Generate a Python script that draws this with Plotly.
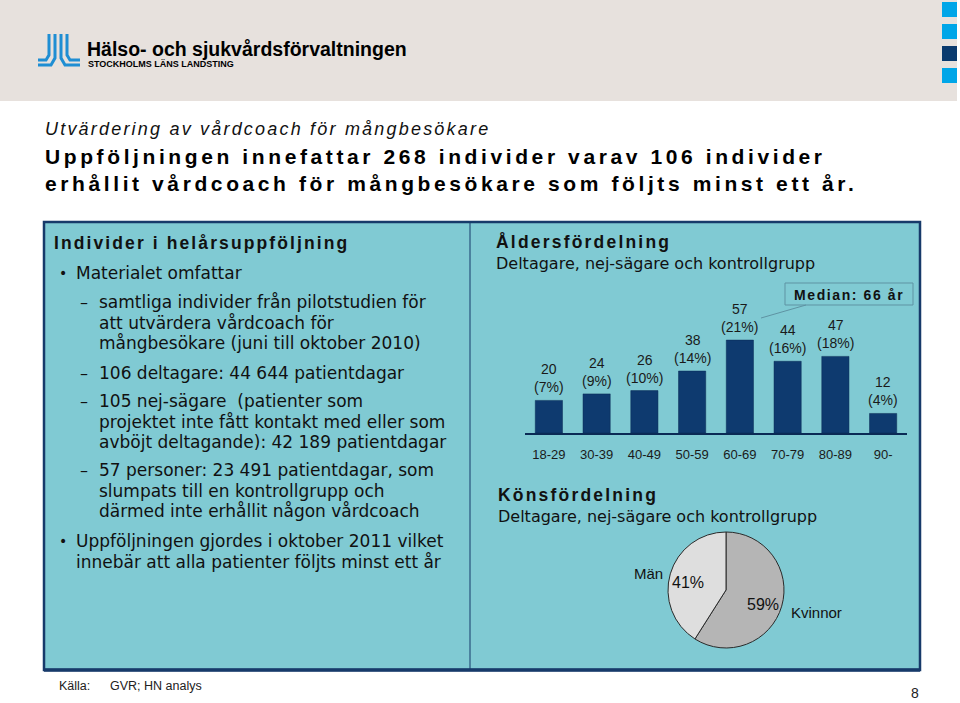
import plotly.graph_objects as go

W, H = 960, 703

# ---------------- data ----------------
age_groups = ["18-29", "30-39", "40-49", "50-59", "60-69", "70-79", "80-89", "90-"]
age_counts = [20, 24, 26, 38, 57, 44, 47, 12]
age_pct = [7, 9, 10, 14, 21, 16, 18, 4]

sex_labels = ["Kvinnor", "Män"]
sex_pct = [59, 41]

median_text = "Median: 66 år"

title_italic = "Utvärdering av vårdcoach för mångbesökare"
title_lines = ["Uppföljningen innefattar 268 individer varav 106 individer",
               "erhållit vårdcoach för mångbesökare som följts minst ett år."]

left_heading = "Individer i helårsuppföljning"
left_items = [
    ("bullet", ["Materialet omfattar"]),
    ("dash", ["samtliga individer från pilotstudien för", "att utvärdera vårdcoach för",
              "mångbesökare (juni till oktober 2010)"]),
    ("dash", ["106 deltagare: 44 644 patientdagar"]),
    ("dash", ["105 nej-sägare  (patienter som", "projektet inte fått kontakt med eller som",
              "avböjt deltagande): 42 189 patientdagar"]),
    ("dash", ["57 personer: 23 491 patientdagar, som", "slumpats till en kontrollgrupp och",
              "därmed inte erhållit någon vårdcoach"]),
    ("bullet", ["Uppföljningen gjordes i oktober 2011 vilket",
                "innebär att alla patienter följts minst ett år"]),
]
item_y = [273, 302, 373, 401, 470, 541]
line_gap = 20.7

age_heading = "Åldersfördelning"
sex_heading = "Könsfördelning"
sub_heading = "Deltagare, nej-sägare och kontrollgrupp"

source_label = "Källa:"
source_text = "GVR; HN analys"
page_no = "8"

# ---------------- helpers ----------------
def X(p):
    return p / W

def Y(p):
    return 1 - p / H

NAVY = "#0E3A6F"
PANEL = "#80CAD3"
SANS = "Liberation Sans, Arial, sans-serif"
VERD = "DejaVu Sans, Verdana, sans-serif"

annotations = []
shapes = []

def text(x, y, s, size, family=SANS, color="#111111", xanchor="left", spacing=None, bold=False, italic=False):
    if bold:
        s = "<b>" + s + "</b>"
    if italic:
        s = "<i>" + s + "</i>"
    if spacing:
        s = '<span style="letter-spacing:%spx">' % spacing + s + "</span>"
    annotations.append(dict(x=X(x), y=Y(y), xref="paper", yref="paper", text=s, showarrow=False,
                            xanchor=xanchor, yanchor="middle",
                            font=dict(size=size, family=family, color=color)))

def rect(x0, y0, x1, y1, fill=None, line=None, lw=0, layer="below"):
    shapes.append(dict(type="rect", xref="paper", yref="paper", x0=X(x0), x1=X(x1), y0=Y(y0), y1=Y(y1),
                       fillcolor=fill or "rgba(0,0,0,0)",
                       line=dict(color=line or "rgba(0,0,0,0)", width=lw), layer=layer))

def seg(x0, y0, x1, y1, color, lw, layer="below"):
    shapes.append(dict(type="line", xref="paper", yref="paper", x0=X(x0), x1=X(x1), y0=Y(y0), y1=Y(y1),
                       line=dict(color=color, width=lw), layer=layer))

def path(pts, color, lw):
    d = "M " + " L ".join("%f,%f" % (X(a), Y(b)) for a, b in pts)
    shapes.append(dict(type="path", xref="paper", yref="paper", path=d,
                       line=dict(color=color, width=lw), layer="above"))

# ---------------- header ----------------
rect(0, 0, 957, 101, fill="#E7E1DD")
for y0 in [2, 24, 46, 68]:
    rect(942, y0, 957, y0 + 15, fill="#0A3A6E" if y0 == 46 else "#00A6E8")

# logo symbol (stylised)
LB = "#1F8ED3"
path([(49, 34), (49, 55), (46, 60), (38, 60)], LB, 3)
path([(55, 34), (55, 58), (51, 65), (38, 65)], LB, 3)
path([(61, 34), (61, 58), (65, 65), (80, 65)], LB, 3)
path([(67, 34), (67, 55), (70, 60), (80, 60)], LB, 3)
text(85, 49, "Hälso- och sjukvårdsförvaltningen", 19.5, color="#000000", bold=True)
text(86, 64, "STOCKHOLMS LÄNS LANDSTING", 9, color="#000000", bold=True)

# ---------------- titles ----------------
text(43, 129, title_italic, 18, color="#111111", italic=True, spacing=2.2)
text(43, 156, title_lines[0], 21, color="#000000", bold=True, spacing=3.6)
text(43, 183, title_lines[1], 21, color="#000000", bold=True, spacing=3.6)

# ---------------- panel ----------------
rect(44, 222, 920, 670, fill=PANEL, line="#173A6A", lw=2.5)
seg(44, 670, 920, 670, "#173A6A", 3.5)
seg(470, 222, 470, 670, "#173A6A", 1)

text(52, 243, left_heading, 17.5, color="#111111", bold=True, spacing=2.1)
for (kind, lines), y0 in zip(left_items, item_y):
    if kind == "bullet":
        text(57, y0, "•", 14, family=VERD)
        tx = 74
    else:
        text(78, y0, "–", 16, family=VERD)
        tx = 97
    for i, ln in enumerate(lines):
        text(tx, y0 + i * line_gap, ln, 17, family=VERD)

text(494, 242, age_heading, 17.5, color="#111111", bold=True, spacing=2.2)
text(494, 263, sub_heading, 16, family=VERD)
text(496, 495, sex_heading, 17.5, color="#111111", bold=True, spacing=2.2)
text(496, 516, sub_heading, 16, family=VERD)

# median callout
rect(785, 283, 913, 305, line="#5E93A3", lw=1, layer="above")
text(849, 295, median_text, 14, color="#111111", bold=True, spacing=1.6, xanchor="center")
seg(806, 305, 761, 318, "#5E93A3", 1, layer="above")

# ---------------- bar chart ----------------
x_dom = [X(525), X(907)]
base_px, ymax = 433, 80
unit = 1.63
y_dom = [Y(base_px), Y(base_px - ymax * unit)]

fig = go.Figure()
fig.add_trace(go.Bar(x=age_groups, y=age_counts, marker=dict(color=NAVY, line=dict(color="#0A2A55", width=0.5)),
                     hoverinfo="x+y", showlegend=False))
for g, c, p in zip(age_groups, age_counts, age_pct):
    annotations.append(dict(x=g, y=c, xref="x", yref="y", text="%d<br>(%d%%)" % (c, p), showarrow=False,
                            yanchor="bottom", yshift=3, font=dict(size=14, family=SANS, color="#1a1a1a")))

# ---------------- pie ----------------
fig.add_trace(go.Pie(labels=sex_labels, values=sex_pct, sort=False, direction="clockwise", rotation=0,
                     marker=dict(colors=["#B5B5B5", "#DEDEDE"], line=dict(color="#2a2a2a", width=1)),
                     textinfo="none", hoverinfo="label+percent", showlegend=False,
                     domain=dict(x=[X(668), X(784)], y=[Y(648), Y(532)])))
text(763, 604, "%d%%" % sex_pct[0], 16, xanchor="center")
text(816, 612, sex_labels[0], 15, xanchor="center")
text(688, 582, "%d%%" % sex_pct[1], 16, xanchor="center")
text(648, 573, sex_labels[1], 15, xanchor="center")

# ---------------- footer ----------------
text(57, 686, source_label, 12.5, family="Liberation Sans Narrow, Liberation Sans", color="#222222")
text(108, 686, source_text, 12.5, family="Liberation Sans Narrow, Liberation Sans", color="#222222")
text(915, 693, page_no, 14, color="#222222", xanchor="center")

fig.update_layout(
    width=W, height=H, margin=dict(l=0, r=0, t=0, b=0),
    paper_bgcolor="white", plot_bgcolor="rgba(0,0,0,0)",
    bargap=0.43,
    xaxis=dict(domain=x_dom, showline=True, linecolor="#0A2A55", linewidth=1.5, ticks="outside",
               ticklen=9, tickcolor="rgba(0,0,0,0)", tickfont=dict(size=13, family=SANS, color="#1a1a1a"),
               fixedrange=True, range=[-0.5, 7.5]),
    yaxis=dict(domain=y_dom, range=[0, ymax], visible=False, fixedrange=True),
    shapes=shapes, annotations=annotations,
)
fig.write_html("out.html", config={"displayModeBar": False},
               post_script="document.body.style.margin='0';document.body.style.overflow='hidden';")
